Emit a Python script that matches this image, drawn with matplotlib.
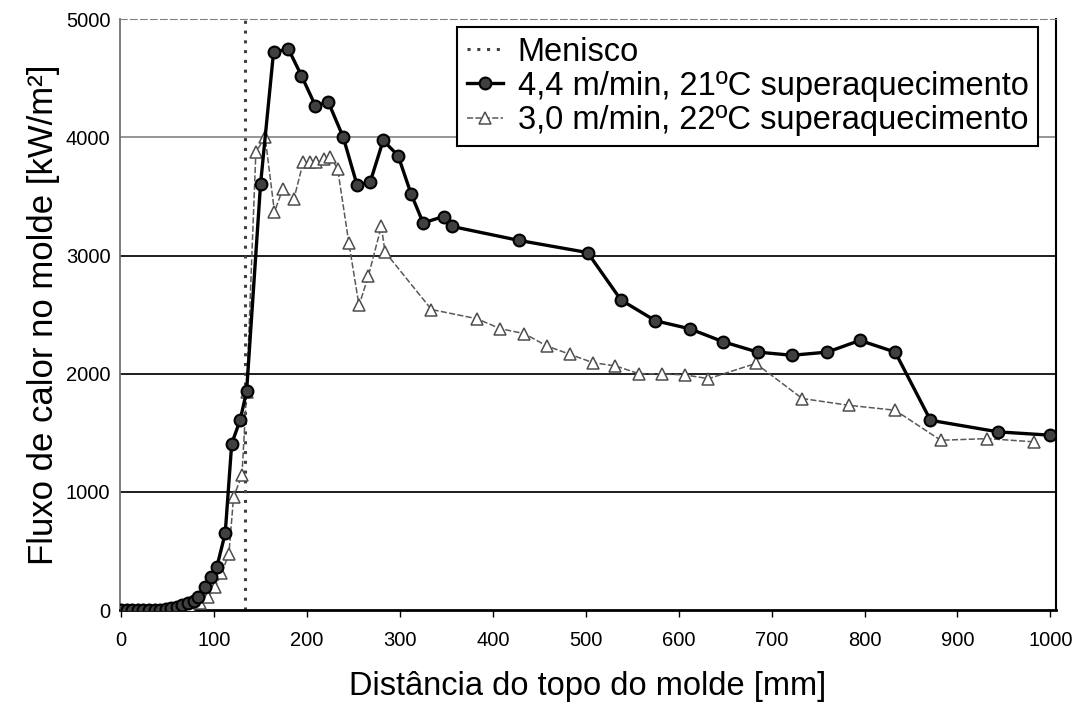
import matplotlib
matplotlib.use("Agg")
import matplotlib.pyplot as plt

plt.rcParams['font.family'] = ['Liberation Sans', 'DejaVu Sans']

# heat flux along the mould, two casting conditions
dist_44 = [0, 6, 12, 18, 24, 30, 36, 42, 48, 54, 60, 66, 72, 78, 83, 90, 97, 103,
           112, 119, 128, 135, 150, 164, 180, 194, 209, 223, 239, 254, 268, 282,
           298, 312, 325, 347, 356, 428, 502, 538, 575, 612, 648, 685, 722, 760,
           795, 833, 871, 944, 1000]
flux_44 = [0, 0, 0, 0, 0, 0, 0, 5, 10, 15, 25, 40, 59, 80, 110, 197, 282, 366,
           650, 1409, 1606, 1850, 3601, 4720, 4747, 4522, 4268, 4297, 4001, 3593,
           3621, 3973, 3846, 3522, 3276, 3330, 3246, 3128, 3025, 2623, 2448, 2380,
           2270, 2183, 2156, 2183, 2282, 2183, 1606, 1508, 1480]

dist_30 = [0, 6, 12, 18, 24, 30, 36, 42, 48, 54, 60, 66, 74, 85, 94, 101, 108, 116,
           121, 130, 135, 145, 155, 165, 174, 186, 196, 203, 210, 218, 225, 233,
           245, 256, 266, 280, 284, 334, 383, 408, 434, 458, 483, 508, 532, 557,
           582, 607, 632, 683, 733, 783, 833, 882, 932, 982]
flux_30 = [0, 0, 0, 0, 0, 0, 0, 0, 0, 5, 10, 15, 28, 59, 112, 197, 310, 479,
           958, 1141, 1846, 3876, 4001, 3368, 3565, 3481, 3791, 3791, 3791, 3818,
           3832, 3734, 3110, 2578, 2825, 3247, 3030, 2543, 2465, 2381, 2339, 2235,
           2164, 2093, 2066, 2001, 1998, 1990, 1958, 2087, 1790, 1733, 1691, 1437,
           1451, 1424]

menisco = 133
xticks = list(range(0, 1001, 100))
yticks = list(range(0, 5001, 1000))

fig = plt.figure(figsize=(10.83, 7.07), dpi=100)
ax = fig.add_axes([0.111, 0.137, 0.864, 0.836])

# horizontal grid
for yv in yticks[1:-1]:
    col = '0.55' if yv == 4000 else '0.05'
    ax.axhline(yv, color=col, lw=1.3, zorder=1)

ax.axvline(menisco, color='0.25', lw=2.2, ls=(0, (1, 2.2)), zorder=2,
           label='Menisco')
ax.plot(dist_44, flux_44, color='black', lw=2.4, marker='o', ms=8.5,
        mfc='0.25', mec='black', mew=1.5, zorder=4,
        label='4,4 m/min, 21ºC superaquecimento')
ax.plot(dist_30, flux_30, color='0.35', lw=1.1, ls=(0, (4, 1.5)), marker='^',
        ms=8.5, mfc='white', mec='0.3', mew=1.1, zorder=3,
        label='3,0 m/min, 22ºC superaquecimento')

ax.set_xlim(-1, 1006)
ax.set_ylim(0, 5000)
ax.set_xticks(xticks)
ax.set_yticks(yticks)

ax.tick_params(axis='both', labelsize=14.5)
ax.tick_params(axis='x', direction='out', length=5, width=1, pad=10)
ax.tick_params(axis='y', length=0, pad=7)

ax.spines['top'].set_color('0.5')
ax.spines['top'].set_linestyle((0, (6, 3)))
ax.spines['left'].set_color('0.45')
ax.spines['left'].set_linewidth(1.3)
ax.spines['bottom'].set_linewidth(2)
ax.spines['right'].set_linewidth(1.5)

ax.set_xlabel('Distância do topo do molde [mm]', fontsize=23.5, labelpad=15)
ax.set_ylabel('Fluxo de calor no molde [kW/m²]', fontsize=25, labelpad=4)

leg = ax.legend(loc='upper right', bbox_to_anchor=(0.988, 0.998), fontsize=23.5,
                frameon=True, fancybox=False, framealpha=1, edgecolor='black',
                handlelength=1.1, handletextpad=0.45, borderpad=0.3,
                labelspacing=0.1, borderaxespad=0.2)
leg.get_frame().set_linewidth(1.5)

fig.savefig('out.png', dpi=100, facecolor='white')
